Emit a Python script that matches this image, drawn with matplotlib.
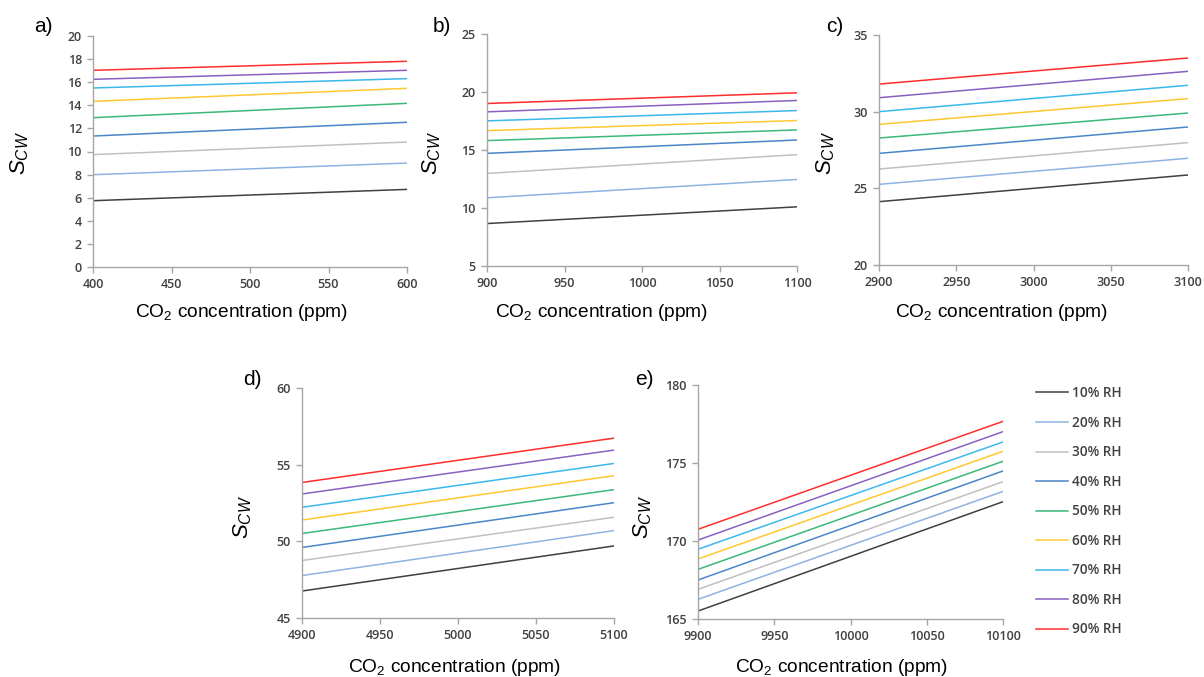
import matplotlib
matplotlib.use("Agg")
import matplotlib.pyplot as plt
import numpy as np

plt.rcParams['mathtext.fontset'] = 'custom'
plt.rcParams['mathtext.rm'] = 'Liberation Sans'
plt.rcParams['mathtext.it'] = 'Liberation Sans:italic'

rh_labels = ['10% RH', '20% RH', '30% RH', '40% RH', '50% RH',
             '60% RH', '70% RH', '80% RH', '90% RH']
colors = ['#404040', '#8db3e2', '#c0c0c0', '#4a86c8', '#3cb878',
          '#ffc830', '#3cb8ec', '#8a5fc0', '#ff2d2d']

# CO2 ranges (ppm) for each panel, endpoints of each line
co2_a = [400, 600]
co2_b = [900, 1100]
co2_c = [2900, 3100]
co2_d = [4900, 5100]
co2_e = [9900, 10100]

# S_CW at the two ends of each RH line
scw_a = [[5.74, 6.72], [7.99, 9.00], [9.73, 10.82], [11.34, 12.53], [12.93, 14.17],
         [14.34, 15.47], [15.50, 16.31], [16.25, 17.03], [17.03, 17.81]]
scw_b = [[8.66, 10.10], [10.88, 12.46], [12.98, 14.60], [14.71, 15.86], [15.81, 16.73],
         [16.67, 17.54], [17.51, 18.40], [18.29, 19.27], [19.01, 19.93]]
scw_c = [[24.13, 25.87], [25.26, 26.96], [26.26, 27.98], [27.28, 29.00], [28.28, 29.91],
         [29.17, 30.85], [30.00, 31.72], [30.91, 32.63], [31.80, 33.50]]
scw_d = [[46.76, 49.70], [47.77, 50.70], [48.75, 51.57], [49.60, 52.52], [50.51, 53.37],
         [51.39, 54.28], [52.22, 55.08], [53.09, 55.95], [53.84, 56.73]]
scw_e = [[165.51, 172.52], [166.26, 173.18], [166.90, 173.80], [167.50, 174.49], [168.18, 175.11],
         [168.85, 175.75], [169.47, 176.35], [170.06, 177.01], [170.75, 177.67]]

yticks_a = [0, 2, 4, 6, 8, 10, 12, 14, 16, 18, 20]
yticks_b = [5, 10, 15, 20, 25]
yticks_c = [20, 25, 30, 35]
yticks_d = [45, 50, 55, 60]
yticks_e = [165, 170, 175, 180]

panels = [
    ('a)', co2_a, scw_a, yticks_a),
    ('b)', co2_b, scw_b, yticks_b),
    ('c)', co2_c, scw_c, yticks_c),
    ('d)', co2_d, scw_d, yticks_d),
    ('e)', co2_e, scw_e, yticks_e),
]

# axes boxes in pixels: left, top, right, bottom
W, H = 1204, 677
boxes = [(93, 36, 407, 267), (487, 34, 797, 266), (879, 35, 1188, 265),
         (302, 388, 614, 618), (698, 385, 1003, 619)]
letter_pos = [(43, 26), (442, 26), (835, 26), (252, 380), (644, 380)]
ylab_pos = [(20, 153), (432, 153), (826, 153), (243, 517), (643, 517)]
xlab_pos = [(242, 313), (602, 313), (1002, 313), (455, 667), (842, 667)]

grey = '#a6a6a6'
fig = plt.figure(figsize=(W / 100, H / 100), dpi=100)

lines = []
for i, (letter, x, ys, yt) in enumerate(panels):
    l, t, r, b = boxes[i]
    ax = fig.add_axes([l / W, 1 - b / H, (r - l) / W, (b - t) / H])
    for j, y in enumerate(ys):
        ln, = ax.plot(x, y, color=colors[j], lw=1.1, label=rh_labels[j])
        if i == 4:
            lines.append(ln)
    ax.set_xlim(x[0], x[1])
    ax.set_xticks(np.linspace(x[0], x[1], 5))
    ax.set_ylim(yt[0], yt[-1])
    ax.set_yticks(yt)
    for s in ['top', 'right']:
        ax.spines[s].set_visible(False)
    for s in ['left', 'bottom']:
        ax.spines[s].set_color(grey)
        ax.spines[s].set_linewidth(1.0)
    ax.tick_params(direction='out', length=4, width=1, color=grey,
                   labelsize=9, labelcolor='#404040', pad=4)
    for lab in ax.get_xticklabels() + ax.get_yticklabels():
        lab.set_fontfamily('Open Sans')
        lab.set_fontweight('semibold')
    ax.set_facecolor('none')

    fig.text(letter_pos[i][0] / W, 1 - letter_pos[i][1] / H, letter,
             fontsize=15, family='Liberation Sans', ha='center', va='center')
    fig.text(ylab_pos[i][0] / W, 1 - ylab_pos[i][1] / H, r'$S_{CW}$',
             fontsize=16, rotation=90, ha='center', va='center')
    fig.text(xlab_pos[i][0] / W, 1 - xlab_pos[i][1] / H,
             r'CO$_2$ concentration (ppm)', fontsize=13.8,
             family='Liberation Sans', ha='center', va='center')

fig.legend(handles=lines, labels=rh_labels, loc='upper left',
           bbox_to_anchor=(1024 / W, 1 - 374 / H), frameon=False,
           handlelength=2.3, handletextpad=0.35, labelspacing=1.14,
           prop={'family': 'Open Sans', 'size': 9.8, 'weight': 'semibold'},
           labelcolor='#404040')

fig.savefig('out.png', dpi=100)
